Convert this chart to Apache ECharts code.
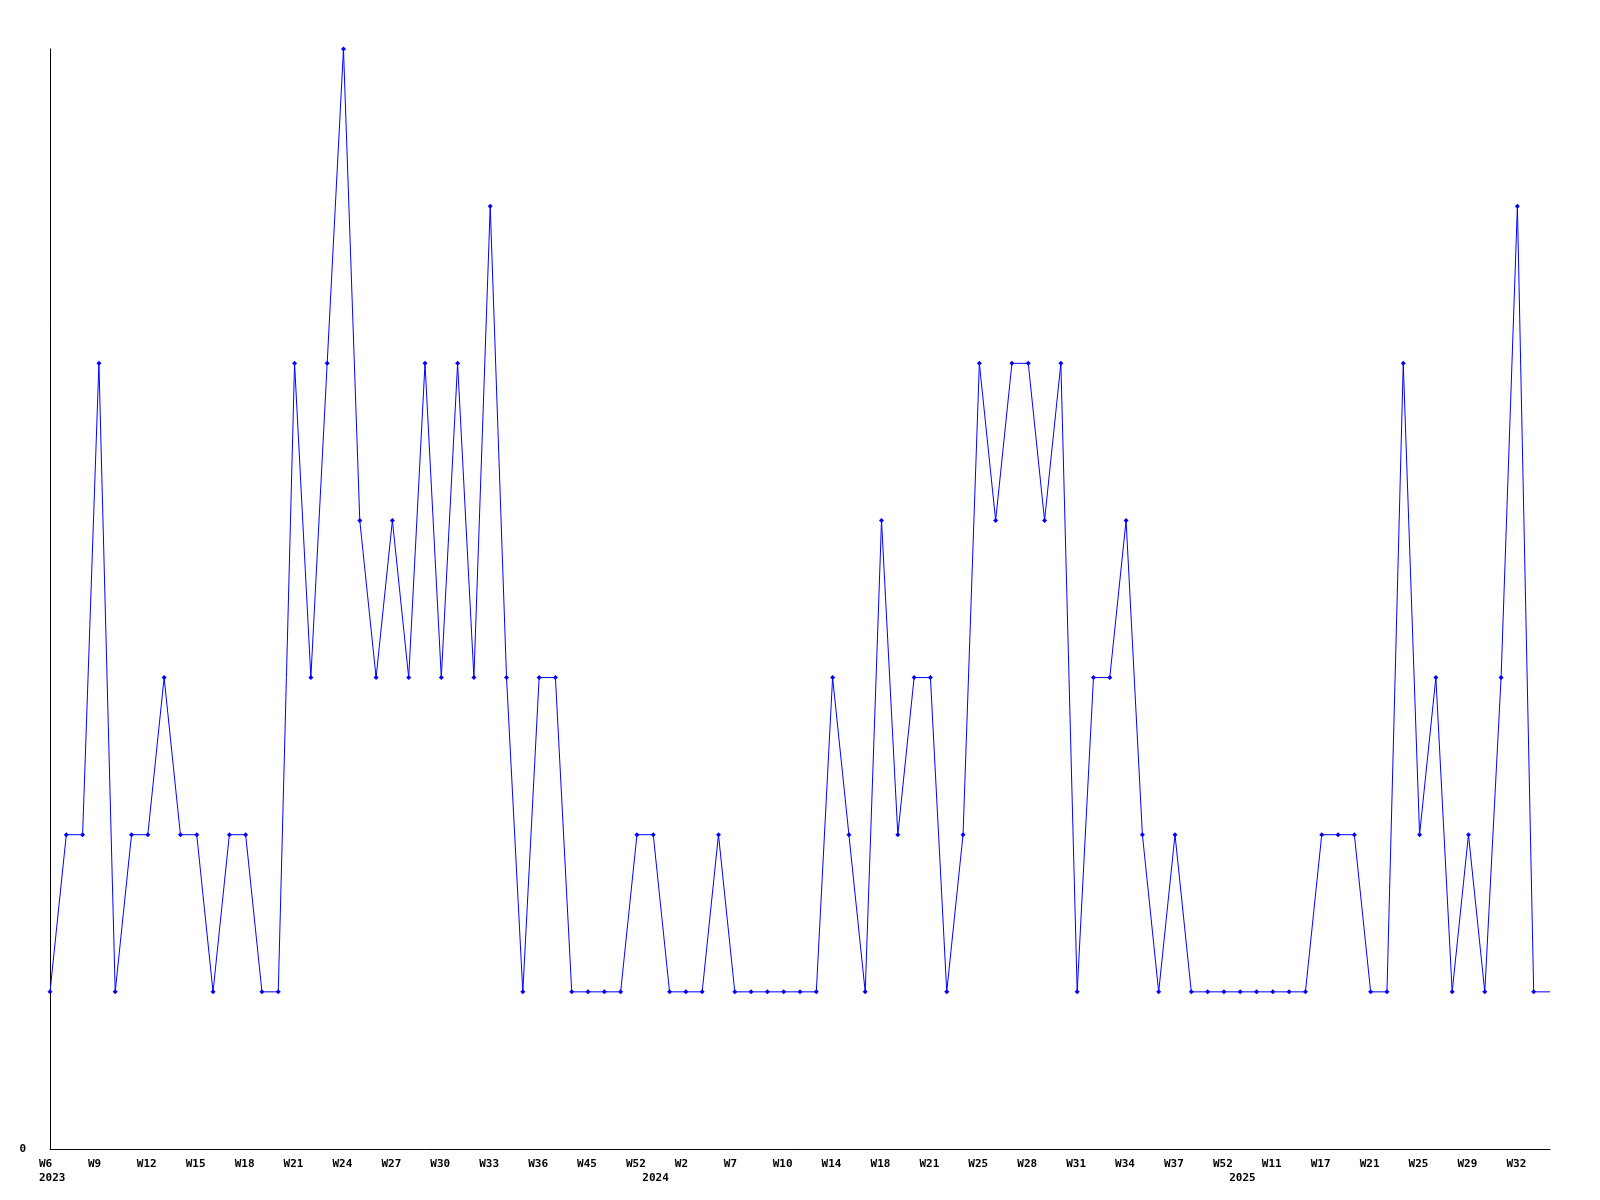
<!DOCTYPE html>
<html>
<head>
<meta charset="utf-8">
<script src="https://cdn.jsdelivr.net/npm/echarts@6/dist/echarts.min.js"></script>
<style>html,body{margin:0;padding:0;background:#fff}#c{width:1600px;height:1200px}</style>
</head>
<body>
<div id="c"></div>
<script>
var categories = [
'2023-W6','2023-W7','2023-W8','2023-W9','2023-W10','2023-W11','2023-W12','2023-W13','2023-W14','2023-W15',
'2023-W16','2023-W17','2023-W18','2023-W19','2023-W20','2023-W21','2023-W22','2023-W23','2023-W24','2023-W25',
'2023-W26','2023-W27','2023-W28','2023-W29','2023-W30','2023-W31','2023-W32','2023-W33','2023-W34','2023-W35',
'2023-W36','2023-W38','2023-W41','2023-W45','2023-W47','2023-W50','2023-W52',
'2024-W0','2024-W1','2024-W2','2024-W4','2024-W5','2024-W7','2024-W8','2024-W9','2024-W10','2024-W11',
'2024-W13','2024-W14','2024-W15','2024-W16','2024-W18','2024-W19','2024-W20','2024-W21','2024-W22','2024-W23',
'2024-W25','2024-W26','2024-W27','2024-W28','2024-W29','2024-W30','2024-W31','2024-W32','2024-W33','2024-W34',
'2024-W35','2024-W36','2024-W37','2024-W40','2024-W46','2024-W52',
'2025-W0','2025-W5','2025-W11','2025-W13','2025-W15','2025-W17','2025-W18','2025-W19','2025-W21','2025-W22',
'2025-W23','2025-W25','2025-W26','2025-W27','2025-W29','2025-W30','2025-W31','2025-W32','2025-W33','2025-W34'
];
var values = [
1,2,2,5,1,2,2,3,2,2,1,2,2,1,1,
5,3,5,7,4,3,4,3,5,3,5,3,6,3,1,
3,3,1,1,1,1,2,2,1,1,1,2,1,1,1,
1,1,1,3,2,1,4,2,3,3,1,2,5,4,5,
5,4,5,1,3,3,4,2,1,2,1,1,1,1,1,
1,1,1,2,2,2,1,1,5,2,3,1,2,1,3,
6,1,1
];
var yTickLabels = ['0'];

function yearOf(i){ return categories[i].split('-')[0]; }
function weekOf(i){ return categories[i].split('-')[1]; }
function isYearStart(i){ return i === 0 || yearOf(i) !== yearOf(i-1); }

var seriesData = values.map(function(v, i){
  return i === values.length - 1 ? {value: v, symbol: 'none'} : v;
});

var chart = echarts.init(document.getElementById('c'), null, {renderer: 'canvas'});
var font = 'DejaVu Sans Mono';
chart.setOption({
  animation: false,
  backgroundColor: '#ffffff',
  grid: {left: 50, right: 50, top: 49, bottom: 51, containLabel: false},
  xAxis: {
    type: 'category',
    data: categories,
    boundaryGap: false,
    axisLine: {show: true, lineStyle: {color: '#000', width: 1}},
    axisTick: {show: false},
    splitLine: {show: false},
    axisLabel: {
      interval: function(i){ return i % 3 === 0 || isYearStart(i); },
      margin: 8,
      color: '#000',
      fontFamily: font,
      fontWeight: 'bold',
      fontSize: 11,
      lineHeight: 14,
      align: 'left',
      padding: [0, 0, 0, -11],
      formatter: function(val, i){
        var wk = (i % 3 === 0) ? weekOf(i) : '';
        var yr = isYearStart(i) ? yearOf(i) : '';
        return yr ? wk + '\n' + yr : wk;
      }
    }
  },
  yAxis: {
    type: 'value',
    min: 0,
    max: 7,
    interval: 7,
    axisLine: {show: true, lineStyle: {color: '#000', width: 1}},
    axisTick: {show: false},
    splitLine: {show: false},
    axisLabel: {
      margin: 24,
      color: '#000',
      fontFamily: font,
      fontWeight: 'bold',
      fontSize: 11,
      formatter: function(v){ return v === 0 ? yTickLabels[0] : ''; }
    }
  },
  series: [{
    type: 'line',
    data: seriesData,
    symbol: 'diamond',
    symbolSize: 5,
    showAllSymbol: true,
    lineStyle: {color: '#0000ff', width: 1},
    itemStyle: {color: '#0000ff'}
  }]
});
</script>
</body>
</html>
